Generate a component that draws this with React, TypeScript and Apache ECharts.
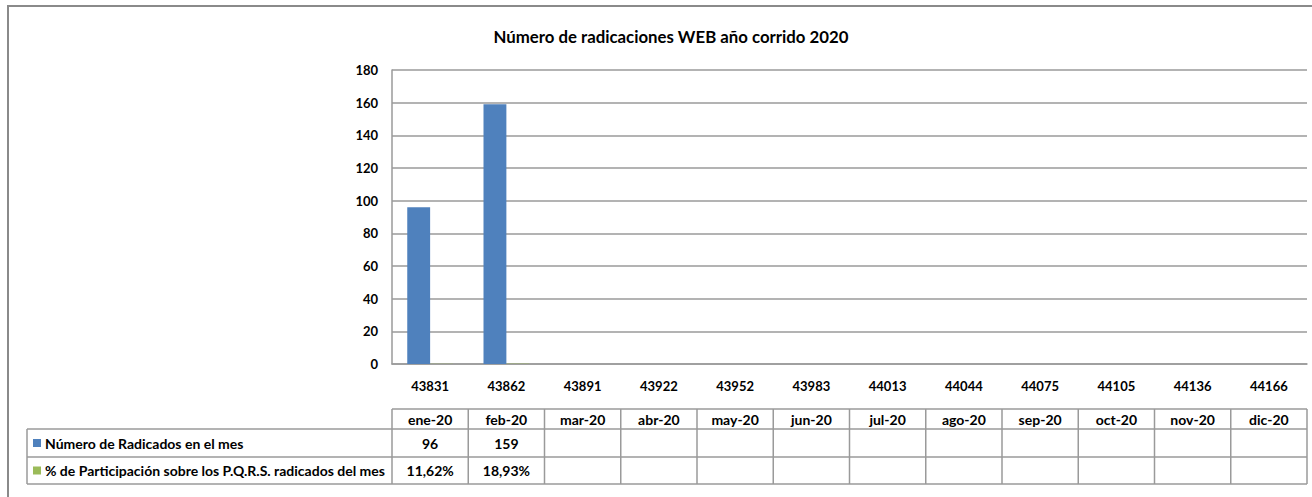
import React, { useEffect, useRef } from "react";
import * as echarts from "echarts";

const title = "Número de radicaciones WEB año corrido 2020";
const categories = ["43831", "43862", "43891", "43922", "43952", "43983", "44013", "44044", "44075", "44105", "44136", "44166"];
const months = ["ene-20", "feb-20", "mar-20", "abr-20", "may-20", "jun-20", "jul-20", "ago-20", "sep-20", "oct-20", "nov-20", "dic-20"];
const seriesNames = ["Número de Radicados en el mes", "% de Participación sobre los P.Q.R.S. radicados del mes"];
const radicados: (number | null)[] = [96, 159, null, null, null, null, null, null, null, null, null, null];
const participacion: (number | null)[] = [0.1162, 0.1893, null, null, null, null, null, null, null, null, null, null];
const seriesColors = ["#4F81BD", "#9BBB59"];

const FONT = "Lato, 'Open Sans', sans-serif";
const GRID_COLOR = "#9a9a9a";

function fmtCount(v: number | null) {
  return v == null ? "" : String(v);
}
function fmtPct(v: number | null) {
  return v == null ? "" : (v * 100).toFixed(2).replace(".", ",") + "%";
}

export default function App() {
  const ref = useRef<HTMLDivElement>(null);
  useEffect(() => {
    if (!ref.current) return;
    const chart = echarts.init(ref.current, null, { renderer: "svg" });
    chart.setOption({
      animation: false,
      backgroundColor: "#ffffff",
      textStyle: { fontFamily: FONT },
      title: {
        text: title,
        left: 666,
        top: 23,
        textAlign: "center",
        textStyle: { fontFamily: FONT, fontSize: 16.8, fontWeight: "bold", color: "#000" },
      },
      grid: { left: 392, right: 5, top: 70, bottom: 133, containLabel: false },
      xAxis: {
        type: "category",
        data: categories,
        axisLine: { show: true, lineStyle: { color: GRID_COLOR, width: 1.5 } },
        axisTick: { show: false },
        axisLabel: { color: "#000", fontWeight: "bold", fontSize: 13, fontFamily: FONT, margin: 15, interval: 0 },
      },
      yAxis: {
        type: "value",
        min: 0,
        max: 180,
        interval: 20,
        axisLine: { show: true, lineStyle: { color: GRID_COLOR, width: 1.5 } },
        axisTick: { show: false },
        splitLine: { lineStyle: { color: GRID_COLOR, width: 1.5 } },
        axisLabel: { color: "#000", fontWeight: "bold", fontSize: 13, fontFamily: FONT, margin: 14 },
      },
      series: [
        {
          name: seriesNames[0],
          type: "bar",
          data: radicados,
          itemStyle: { color: seriesColors[0] },
          barGap: "0%",
          barCategoryGap: "40%",
        },
        {
          name: seriesNames[1],
          type: "bar",
          data: participacion,
          itemStyle: { color: seriesColors[1] },
          barGap: "0%",
          barCategoryGap: "40%",
        },
      ],
    });

    // Build the data table beneath, positioned through the category axis scale
    const centers = categories.map((_, i) => chart.convertToPixel({ xAxisIndex: 0 }, i) as number);
    const colW = centers.length > 1 ? centers[1] - centers[0] : 76;
    const tableLeft = 27;
    const colStart = centers[0] - colW / 2;
    const colEnd = centers[centers.length - 1] + colW / 2;
    const yHead = 409;
    const yRow1 = 429;
    const yRow2 = 457;
    const yBottom = 484;
    const lineStyle = { stroke: GRID_COLOR, lineWidth: 1.5 };
    const g: any[] = [];

    // outer frame
    g.push({
      type: "rect",
      shape: { x: 8, y: 6, width: 1330, height: 520 },
      style: { fill: "none", stroke: "#8a8a8a", lineWidth: 2 },
      silent: true,
    });

    // horizontal lines
    g.push({ type: "line", shape: { x1: colStart, y1: yHead, x2: colEnd, y2: yHead }, style: lineStyle });
    [yRow1, yRow2, yBottom].forEach((y) =>
      g.push({ type: "line", shape: { x1: tableLeft, y1: y, x2: colEnd, y2: y }, style: lineStyle })
    );
    // vertical lines
    g.push({ type: "line", shape: { x1: tableLeft, y1: yRow1, x2: tableLeft, y2: yBottom }, style: lineStyle });
    for (let i = 0; i <= centers.length; i++) {
      const x = colStart + i * colW;
      g.push({ type: "line", shape: { x1: x, y1: yHead, x2: x, y2: yBottom }, style: lineStyle });
    }

    const textBase = { fill: "#000", fontFamily: FONT, fontWeight: "bold", fontSize: 14 };
    months.forEach((m, i) => {
      g.push({
        type: "text",
        x: centers[i],
        y: (yHead + yRow1) / 2,
        style: { ...textBase, text: m, align: "center", verticalAlign: "middle" },
      });
    });
    const rows = [radicados.map(fmtCount), participacion.map(fmtPct)];
    const rowY = [(yRow1 + yRow2) / 2, (yRow2 + yBottom) / 2];
    rows.forEach((vals, r) => {
      g.push({
        type: "rect",
        shape: { x: 33, y: rowY[r] - 4, width: 8, height: 8 },
        style: { fill: seriesColors[r] },
      });
      g.push({
        type: "text",
        x: 45,
        y: rowY[r],
        style: { ...textBase, text: seriesNames[r], align: "left", verticalAlign: "middle" },
      });
      vals.forEach((v, i) => {
        if (!v) return;
        g.push({
          type: "text",
          x: centers[i],
          y: rowY[r],
          style: { ...textBase, text: v, align: "center", verticalAlign: "middle" },
        });
      });
    });

    chart.setOption({ graphic: g });
    return () => chart.dispose();
  }, []);
  return <div ref={ref} style={{ width: 1312, height: 497, position: "absolute", left: 0, top: 0 }} />;
}
